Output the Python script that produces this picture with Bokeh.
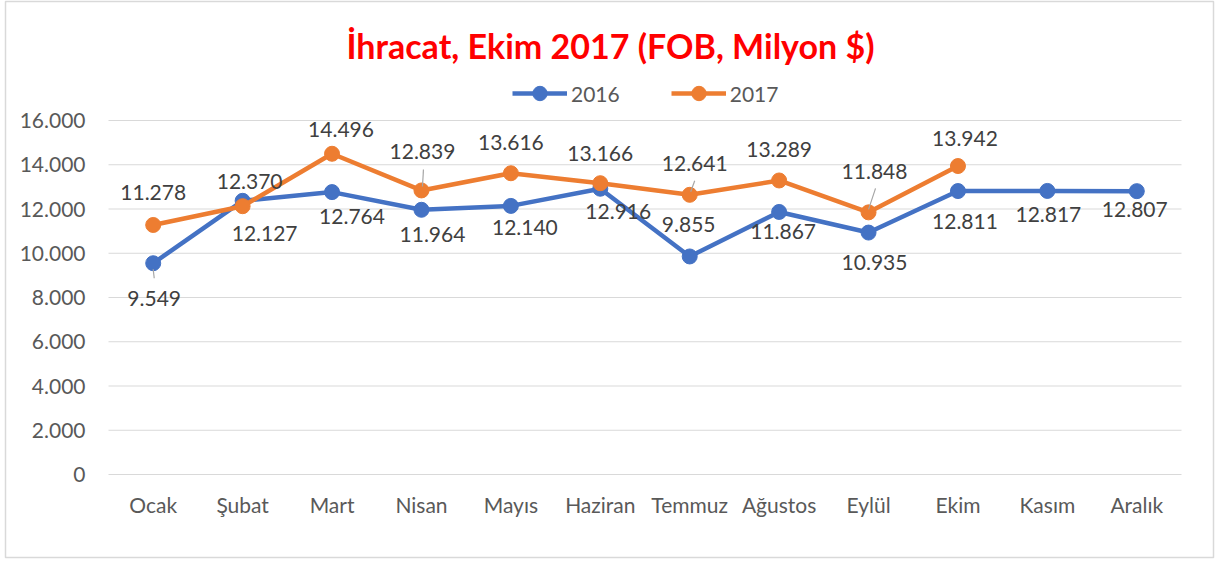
from bokeh.plotting import figure
from bokeh.models import (ColumnDataSource, FixedTicker, Range1d, Legend, LegendItem, Label,
                          LinearAxis)
from bokeh.embed import file_html
from bokeh.resources import INLINE
from bokeh.core.properties import value

# ---------------- data ----------------
months = ["Ocak", "Şubat", "Mart", "Nisan", "Mayıs", "Haziran", "Temmuz",
          "Ağustos", "Eylül", "Ekim", "Kasım", "Aralık"]
exp_2016 = [9549, 12370, 12764, 11964, 12140, 12916, 9855, 11867, 10935, 12811, 12817, 12807]
exp_2017 = [11278, 12127, 14496, 12839, 13616, 13166, 12641, 13289, 11848, 13942]
series_names = ["2016", "2017"]
y_ticks = [0, 2000, 4000, 6000, 8000, 10000, 12000, 14000, 16000]
y_tick_labels = ["0", "2.000", "4.000", "6.000", "8.000", "10.000", "12.000", "14.000", "16.000"]
title_text = "İhracat, Ekim 2017 (FOB, Milyon $)"

# ---------------- layout / style ----------------
W, H = 1215, 563
BOX_L, BOX_R, BOX_T, BOX_B = 5, 1213, 1, 557     # chart border = frame
PL, PR, PB = 108, 1181, 474                      # plot area (gridlines) in pixels
PX_Y = 354.0 / 16000.0                           # pixels per data unit (y)
PX_X = (PR - PL) / 12.0                          # pixels per category
BLUE, ORANGE = "#4472C4", "#ED7D31"
FONT = "Lato"

# label offsets (pixels, screen: +dy = down) relative to each point
off_2016 = [(1, 35), (7, -19), (20, 24), (11, 25), (14, 22), (18, 23), (-1, -32),
            (4, 20), (6, 30), (7, 30), (1, 24), (-2, 18)]
off_2017 = [(0, -32), (22, 27), (9, -24), (1, -39), (0, -31), (0, -30), (5, -31),
            (0, -31), (6, -41), (7, -28)]
# leader lines: (series, index, x0, y0, x1, y1) in pixel offsets
leaders = [(0, 0, 0, 6, 1, 15), (1, 3, 1, -4, 2, -21), (1, 6, 1, -3, 5, -14),
           (1, 8, 0, -3, 7, -24)]


def fmt(v):
    return f"{v:,}".replace(",", ".")


x0 = -0.5 - (PL - BOX_L) / PX_X
x1 = 11.5 + (BOX_R - PR) / PX_X
y0 = -(BOX_B - PB) / PX_Y
y1 = (PB - BOX_T) / PX_Y

p = figure(width=W, height=H, title=None,
           x_range=Range1d(x0, x1), y_range=Range1d(y0, y1),
           x_axis_type=None, y_axis_type=None,
           output_backend="svg", toolbar_location=None,
           min_border_left=BOX_L, min_border_right=W - BOX_R,
           min_border_top=BOX_T, min_border_bottom=H - BOX_B)
p.outline_line_color = "#d9d9d9"
p.outline_line_width = 1.5
p.background_fill_color = "white"
p.border_fill_color = "white"
p.xgrid.visible = False
p.ygrid.visible = False

# gridlines across the plot area
p.segment(x0=[-0.5] * len(y_ticks), y0=y_ticks, x1=[11.5] * len(y_ticks), y1=y_ticks,
          line_color="#d9d9d9", line_width=1.2)

# axes drawn inside the bordered frame
xaxis = LinearAxis(fixed_location=0, ticker=FixedTicker(ticks=list(range(len(months)))),
                   major_label_overrides={i: m for i, m in enumerate(months)},
                   major_label_standoff=11)
yaxis = LinearAxis(fixed_location=-0.5, ticker=FixedTicker(ticks=y_ticks),
                   major_label_overrides={t: s for t, s in zip(y_ticks, y_tick_labels)},
                   major_label_standoff=17)
for ax in (xaxis, yaxis):
    ax.axis_line_color = None
    ax.major_tick_line_color = None
    ax.minor_tick_line_color = None
    ax.major_label_text_font = FONT
    ax.major_label_text_font_size = "21px"
    ax.major_label_text_color = "#595959"
p.add_layout(xaxis, "below")
p.add_layout(yaxis, "left")

# series
s16 = ColumnDataSource(dict(x=list(range(len(exp_2016))), y=exp_2016))
s17 = ColumnDataSource(dict(x=list(range(len(exp_2017))), y=exp_2017))

l16 = p.line("x", "y", source=s16, line_color=BLUE, line_width=4.5)
c16 = p.scatter("x", "y", source=s16, size=15, fill_color=BLUE, line_color=BLUE)
l17 = p.line("x", "y", source=s17, line_color=ORANGE, line_width=4.5)
c17 = p.scatter("x", "y", source=s17, size=15, fill_color=ORANGE, line_color=ORANGE)

# leader lines
series_vals = [exp_2016, exp_2017]
lx0, ly0, lx1, ly1 = [], [], [], []
for s, i, ax0, ay0, ax1, ay1 in leaders:
    v = series_vals[s][i]
    lx0.append(i + ax0 / PX_X); ly0.append(v - ay0 / PX_Y)
    lx1.append(i + ax1 / PX_X); ly1.append(v - ay1 / PX_Y)
p.segment(lx0, ly0, lx1, ly1, line_color="#a6a6a6", line_width=1.2)

# data labels
for vals, offs in ((exp_2016, off_2016), (exp_2017, off_2017)):
    tx = [i + dx / PX_X for i, (dx, dy) in enumerate(offs)]
    ty = [v - dy / PX_Y for v, (dx, dy) in zip(vals, offs)]
    p.text(tx, ty, text=[fmt(v) for v in vals], text_align="center",
           text_baseline="middle", text_font=value(FONT), text_font_size="21px",
           text_color="#404040")

# legend
legend = Legend(items=[LegendItem(label=series_names[0], renderers=[l16, c16]),
                       LegendItem(label=series_names[1], renderers=[l17, c17])],
                orientation="horizontal", location=(512 - BOX_L, BOX_B - 111),
                glyph_width=55, glyph_height=36, label_height=36, label_standoff=4,
                spacing=51, padding=0, margin=0, border_line_color=None,
                background_fill_alpha=0, label_text_font=FONT,
                label_text_font_size="21px", label_text_color="#595959")
p.add_layout(legend, "center")

# title
p.add_layout(Label(x=610 - BOX_L, y=BOX_B - 45, x_units="screen", y_units="screen",
                   text=title_text, text_align="center", text_baseline="middle",
                   text_font=FONT, text_font_style="bold", text_font_size="34px",
                   text_color="#FF0000"))

open("out.html", "w").write(file_html(p, INLINE))
